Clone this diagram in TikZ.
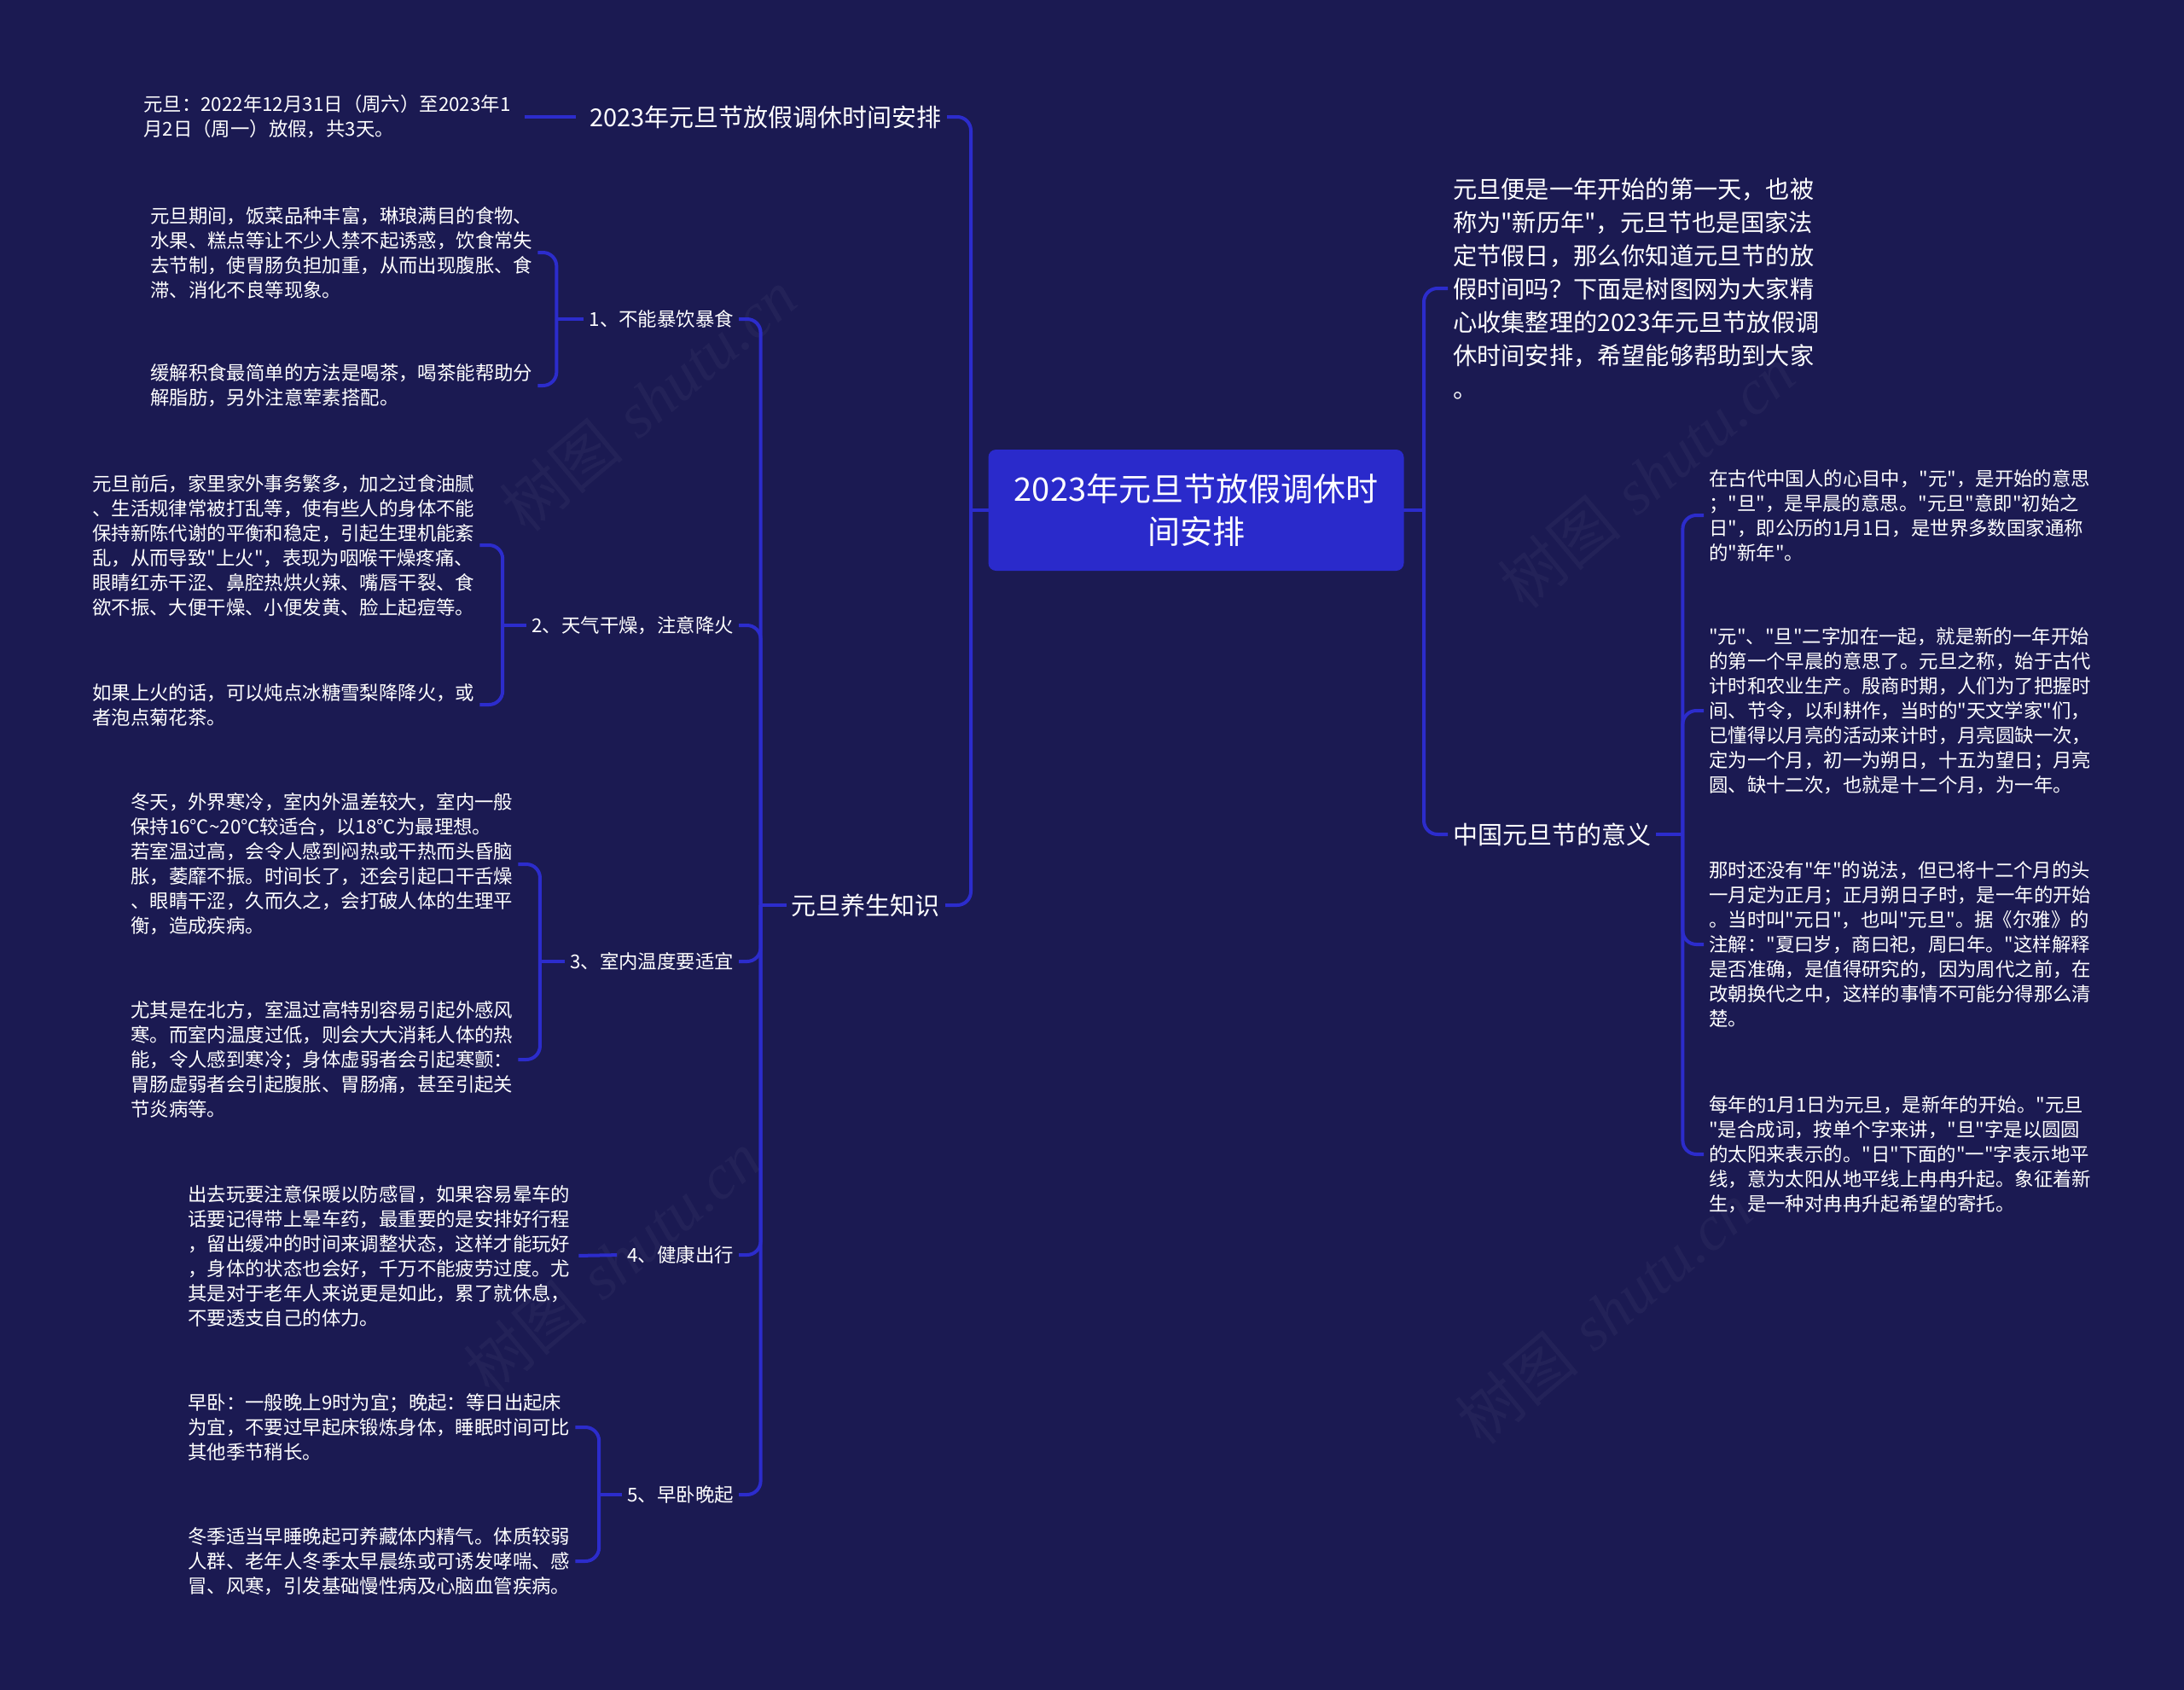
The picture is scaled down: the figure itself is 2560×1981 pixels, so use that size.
\documentclass[tikz,border=0pt]{standalone}
\usepackage{fontspec}
\newfontfamily\cjk{Noto Sans CJK SC}
\newfontfamily\wmserif{Liberation Serif}
\definecolor{bgc}{HTML}{1B1A52}
\definecolor{boxc}{HTML}{2A2ACB}
\definecolor{linec}{HTML}{2C2CCC}
\begin{document}
\begin{tikzpicture}[x=1pt,y=-1pt,
  leaf/.style={font=\cjk\fontsize{22.4}{29}\selectfont, text=white, align=left, inner sep=6pt},
  sublab/.style={font=\cjk\fontsize{22.4}{29}\selectfont, text=white, inner sep=6pt},
  lvl/.style={font=\cjk\fontsize{29}{36}\selectfont, text=white, inner sep=6pt},
  intro/.style={font=\cjk\fontsize{28.2}{39}\selectfont, text=white, align=left, inner sep=6pt},
  rootbox/.style={fill=boxc, rounded corners=9pt, minimum width=487pt, minimum height=142pt,
    font=\cjk\fontsize{38}{50}\selectfont, text=white, align=center, inner sep=0pt},
  conn/.style={draw=linec, line width=4pt, rounded corners=16pt},
  wm/.style={text=white, opacity=0.035, font=\fontsize{74}{74}\selectfont}]
\fill[bgc] (0,0) rectangle (2560,1981);
\useasboundingbox (0,0) rectangle (2560,1981);

% watermarks
\node[wm, rotate=40] (w1) at (760,470) {{\cjk 树图} {\wmserif\itshape shutu.cn}};
\node[wm, rotate=40] (w2) at (1930,560) {{\cjk 树图} {\wmserif\itshape shutu.cn}};
\node[wm, rotate=40] (w3) at (718,1480) {{\cjk 树图} {\wmserif\itshape shutu.cn}};
\node[wm, rotate=40] (w4) at (1880,1540) {{\cjk 树图} {\wmserif\itshape shutu.cn}};

% root
\coordinate (lj) at (1138,598);
\coordinate (rj) at (1669,598);
\draw[conn] (lj) -- (rj);
\node[rootbox] (root) at (1402,598) {2023年元旦节放假调休时\\间安排};

% left level 1
\node[lvl, anchor=east] (L1) at (1110,137) {2023年元旦节放假调休时间安排};
\node[lvl, anchor=east] (L2) at (1108,1061) {元旦养生知识};
\draw[conn] (lj) |- (L1.east);
\draw[conn] (lj) |- (L2.east);

\node[leaf, anchor=west] (L1a) at (162,137) {元旦：2022年12月31日（周六）至2023年1\\月2日（周一）放假，共3天。};
\draw[conn, shorten <=10pt, shorten >=10pt] (L1.west) -- (L1a.east);

% health sub labels
\coordinate (l2j) at ([xshift=-30pt]L2.west);
\draw[conn] (L2.west) -- (l2j);
\node[sublab, anchor=east] (S1) at (866,374) {1、不能暴饮暴食};
\node[sublab, anchor=east] (S2) at (866,733) {2、天气干燥，注意降火};
\node[sublab, anchor=east] (S3) at (866,1127) {3、室内温度要适宜};
\node[sublab, anchor=east] (S4) at (866,1471) {4、健康出行};
\node[sublab, anchor=east] (S5) at (866,1752) {5、早卧晚起};
\foreach \s in {S1,S2,S3,S4,S5} \draw[conn] (l2j) |- (\s.east);

% S1
\node[leaf, anchor=west] (S1a) at (170,296) {元旦期间，饭菜品种丰富，琳琅满目的食物、\\水果、糕点等让不少人禁不起诱惑，饮食常失\\去节制，使胃肠负担加重，从而出现腹胀、食\\滞、消化不良等现象。};
\node[leaf, anchor=west] (S1b) at (170,452) {缓解积食最简单的方法是喝茶，喝茶能帮助分\\解脂肪，另外注意荤素搭配。};
\coordinate (s1j) at ([xshift=-32pt]S1.west);
\draw[conn] (S1.west) -- (s1j);
\draw[conn] (s1j) |- (S1a.east);
\draw[conn] (s1j) |- (S1b.east);

% S2
\node[leaf, anchor=west] (S2a) at (102,639) {元旦前后，家里家外事务繁多，加之过食油腻\\、生活规律常被打乱等，使有些人的身体不能\\保持新陈代谢的平衡和稳定，引起生理机能紊\\乱，从而导致"上火"，表现为咽喉干燥疼痛、\\眼睛红赤干涩、鼻腔热烘火辣、嘴唇干裂、食\\欲不振、大便干燥、小便发黄、脸上起痘等。};
\node[leaf, anchor=west] (S2b) at (102,826) {如果上火的话，可以炖点冰糖雪梨降降火，或\\者泡点菊花茶。};
\coordinate (s2j) at ([xshift=-28pt]S2.west);
\draw[conn] (S2.west) -- (s2j);
\draw[conn] (s2j) |- (S2a.east);
\draw[conn] (s2j) |- (S2b.east);

% S3
\node[leaf, anchor=west] (S3a) at (147,1013) {冬天，外界寒冷，室内外温差较大，室内一般\\保持16℃\textasciitilde 20℃较适合，以18℃为最理想。\\若室温过高，会令人感到闷热或干热而头昏脑\\胀，萎靡不振。时间长了，还会引起口干舌燥\\、眼睛干涩，久而久之，会打破人体的生理平\\衡，造成疾病。};
\node[leaf, anchor=west] (S3b) at (147,1242) {尤其是在北方，室温过高特别容易引起外感风\\寒。而室内温度过低，则会大大消耗人体的热\\能，令人感到寒冷；身体虚弱者会引起寒颤：\\胃肠虚弱者会引起腹胀、胃肠痛，甚至引起关\\节炎病等。};
\coordinate (s3j) at ([xshift=-29pt]S3.west);
\draw[conn] (S3.west) -- (s3j);
\draw[conn] (s3j) |- (S3a.east);
\draw[conn] (s3j) |- (S3b.east);

% S4
\node[leaf, anchor=west] (S4a) at (214,1472) {出去玩要注意保暖以防感冒，如果容易晕车的\\话要记得带上晕车药，最重要的是安排好行程\\，留出缓冲的时间来调整状态，这样才能玩好\\，身体的状态也会好，千万不能疲劳过度。尤\\其是对于老年人来说更是如此，累了就休息，\\不要透支自己的体力。};
\draw[conn, shorten <=6pt, shorten >=4pt] (S4.west) -- (S4a.east);

% S5
\node[leaf, anchor=west] (S5a) at (214,1673) {早卧：一般晚上9时为宜；晚起：等日出起床\\为宜，不要过早起床锻炼身体，睡眠时间可比\\其他季节稍长。};
\node[leaf, anchor=west] (S5b) at (214,1830) {冬季适当早睡晚起可养藏体内精气。体质较弱\\人群、老年人冬季太早晨练或可诱发哮喘、感\\冒、风寒，引发基础慢性病及心脑血管疾病。};
\coordinate (s5j) at ([xshift=-27pt]S5.west);
\draw[conn] (S5.west) -- (s5j);
\draw[conn] (s5j) |- (S5a.east);
\draw[conn] (s5j) |- (S5b.east);

% right side
\node[intro, anchor=west] (R1) at (1697,338) {元旦便是一年开始的第一天，也被\\称为"新历年"，元旦节也是国家法\\定节假日，那么你知道元旦节的放\\假时间吗？下面是树图网为大家精\\心收集整理的2023年元旦节放假调\\休时间安排，希望能够帮助到大家\\。};
\node[lvl, anchor=west] (R2) at (1697,978) {中国元旦节的意义};
\draw[conn] (rj) |- (R1.west);
\draw[conn] (rj) |- (R2.west);

\node[leaf, anchor=west] (T1) at (1997,604) {在古代中国人的心目中，"元"，是开始的意思\\；"旦"，是早晨的意思。"元旦"意即"初始之\\日"，即公历的1月1日，是世界多数国家通称\\的"新年"。};
\node[leaf, anchor=west] (T2) at (1997,833) {"元"、"旦"二字加在一起，就是新的一年开始\\的第一个早晨的意思了。元旦之称，始于古代\\计时和农业生产。殷商时期，人们为了把握时\\间、节令，以利耕作，当时的"天文学家"们，\\已懂得以月亮的活动来计时，月亮圆缺一次，\\定为一个月，初一为朔日，十五为望日；月亮\\圆、缺十二次，也就是十二个月，为一年。};
\node[leaf, anchor=west] (T3) at (1997,1107) {那时还没有"年"的说法，但已将十二个月的头\\一月定为正月；正月朔日子时，是一年的开始\\。当时叫"元日"，也叫"元旦"。据《尔雅》的\\注解："夏曰岁，商曰祀，周曰年。"这样解释\\是否准确，是值得研究的，因为周代之前，在\\改朝换代之中，这样的事情不可能分得那么清\\楚。};
\node[leaf, anchor=west] (T4) at (1997,1353) {每年的1月1日为元旦，是新年的开始。"元旦\\"是合成词，按单个字来讲，"旦"字是以圆圆\\的太阳来表示的。"日"下面的"一"字表示地平\\线，意为太阳从地平线上冉冉升起。象征着新\\生，是一种对冉冉升起希望的寄托。};
\coordinate (r2j) at ([xshift=31pt]R2.east);
\draw[conn] (R2.east) -- (r2j);
\foreach \t in {T1,T2,T3,T4} \draw[conn] (r2j) |- (\t.west);
\end{tikzpicture}
\end{document}
